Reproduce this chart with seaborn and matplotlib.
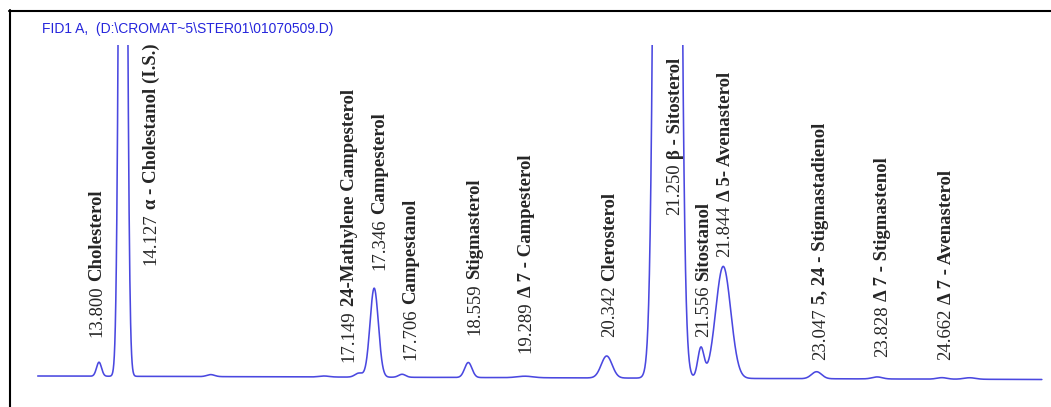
import numpy as np
import pandas as pd
import matplotlib
matplotlib.use("Agg")
import matplotlib.pyplot as plt
from matplotlib.lines import Line2D
import seaborn as sns

# peaks of the FID trace (retention time in min, height, sigma in min)
peak_times = [13.800, 14.109, 15.24, 16.70, 17.149, 17.346, 17.706, 18.559, 19.289,
              20.342, 21.126, 21.556, 21.844, 23.047, 23.828, 24.662, 25.02]
peak_heights = [14, 1270, 2, 1, 4, 89, 3, 15, 1.5, 22, 6000, 30, 112, 7, 2, 1.5, 1.5]
peak_sigmas = [0.032, 0.039, 0.05, 0.065, 0.05, 0.054, 0.045, 0.047, 0.10,
               0.07, 0.082, 0.04, 0.097, 0.065, 0.065, 0.065, 0.075]
baseline_start, baseline_end = 1.0, -2.5
run_start, run_end = 13.01, 25.95

# peak annotations: retention time text and compound name
label_numbers = ["13.800", "14.127", "17.149", "17.346", "17.706", "18.559", "19.289",
                 "20.342", "21.250", "21.556", "21.844", "23.047", "23.828", "24.662"]
label_names = ["Cholesterol", "\u03b1 - Cholestanol (I.S.)", "24-Mathylene Campesterol",
               "Campesterol", "Campestanol", "Stigmasterol", "\u0394 7 - Campesterol",
               "Clerosterol", "\u03b2 - Sitosterol", "Sitostanol", "\u0394 5- Avenasterol",
               "5, 24 - Stigmastadienol", "\u0394 7 - Stigmastenol", "\u0394 7 - Avenasterol"]
# where each label sits (x in min, bottom of text in signal units)
label_x = [13.774, 14.470, 17.022, 17.421, 17.821, 18.645, 19.303,
           20.385, 21.223, 21.597, 21.867, 23.104, 23.903, 24.715]
label_y = [40, 112, 15, 107, 17, 42, 24, 40, 162, 40, 120, 17, 20, 17]

t = np.linspace(run_start, run_end, 4000)
signal = np.linspace(baseline_start, baseline_end, t.size)
for c, h, s in zip(peak_times, peak_heights, peak_sigmas):
    signal = signal + h * np.exp(-0.5 * ((t - c) / s) ** 2)
trace = pd.DataFrame({"time": t, "signal": signal})

sns.set_style("white")
plt.rcParams["font.family"] = ["Liberation Serif", "DejaVu Serif"]

W, H = 1051, 407
fig = plt.figure(figsize=(W / 100, H / 100), dpi=100)
ax = fig.add_axes([9 / W, 0, 1 - 9 / W, (H - 45) / H])
sns.lineplot(data=trace, x="time", y="signal", ax=ax, color="#4a48e0",
             linewidth=1.15, estimator=None, sort=False)
ax.set_xlim(12.640, 26.068)
ax.set_ylim(-30, 332)
ax.axis("off")

for num, name, x, y in zip(label_numbers, label_names, label_x, label_y):
    nt = ax.text(x, y, num, rotation=90, ha="center", va="bottom", fontsize=13.5)
    ax.annotate(name, xy=(0.5, 1.0), xycoords=nt, xytext=(0, 3),
                textcoords="offset points", rotation=90, ha="center",
                va="bottom", fontsize=13.5, fontweight="bold")

# frame of the original printout
fig.add_artist(Line2D([9.5 / W, 9.5 / W], [0, 1 - 10 / H], color="black", lw=1.5))
fig.add_artist(Line2D([9 / W, 1], [1 - 10.5 / H, 1 - 10.5 / H], color="black", lw=1.5))
fig.text(42 / W, 1 - 29 / H, "FID1 A,  (D:\\CROMAT~5\\STER01\\01070509.D)",
         color="#2626dc", fontsize=10, family="Liberation Sans", va="center")

fig.savefig("out.png", dpi=100)
